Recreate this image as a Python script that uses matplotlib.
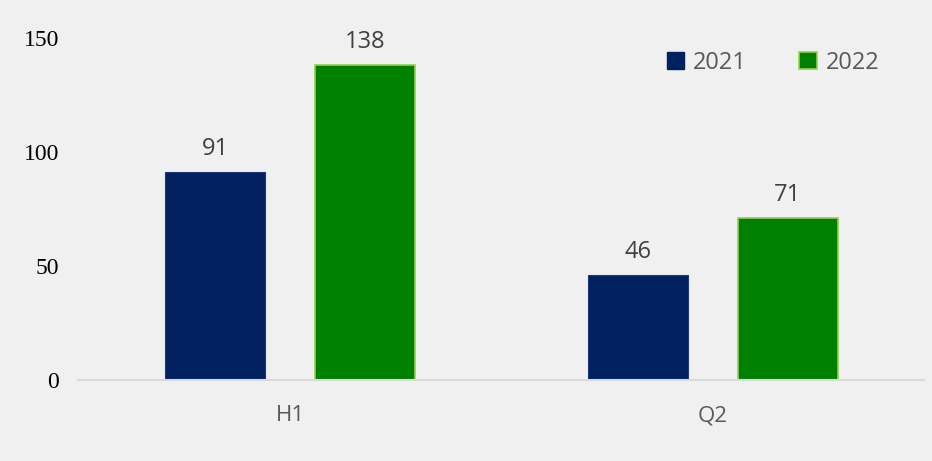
import matplotlib
matplotlib.use("Agg")
import matplotlib.pyplot as plt
from matplotlib.patches import Patch
import numpy as np

categories = ["H1", "Q2"]
series_names = ["2021", "2022"]
values_2021 = [91, 46]
values_2022 = [138, 71]
y_ticks = [0, 50, 100, 150]

bg = "#f0f0f0"
navy = "#002060"
green = "#008000"
green_edge = "#92d050"
sans = ["Open Sans", "DejaVu Sans"]

fig = plt.figure(figsize=(9.32, 4.61), dpi=100, facecolor=bg)
ax = fig.add_axes([0.0842, 0.1757, 0.9077, 0.742], facecolor=bg)

x = np.arange(len(categories))
width = 0.236
offset = 0.177

b1 = ax.bar(x - offset, values_2021, width, color=navy, edgecolor="#1f3a78", linewidth=0.8, label=series_names[0])
b2 = ax.bar(x + offset, values_2022, width, color=green, edgecolor=green_edge, linewidth=1.2, label=series_names[1])

for bars, vals in ((b1, values_2021), (b2, values_2022)):
    for rect, v in zip(bars, vals):
        ax.annotate(f"{v}", (rect.get_x() + rect.get_width() / 2, v),
                    xytext=(0, 8), textcoords="offset points",
                    ha="center", va="bottom",
                    family=sans, fontsize=17, color="#404040")

ax.set_xlim(-0.5, 1.5)
ax.set_ylim(0, 150)
ax.set_yticks(y_ticks)
ax.set_yticklabels([str(t) for t in y_ticks])
ax.set_xticks(x)
ax.set_xticklabels(categories)
ax.tick_params(axis="y", length=0, pad=14, labelsize=17, labelcolor="#000000")
ax.tick_params(axis="x", length=0, pad=18, labelsize=16, labelcolor="#595959")
for lbl in ax.get_yticklabels():
    lbl.set_family("Liberation Serif")
for lbl in ax.get_xticklabels():
    lbl.set_family(sans)

for s in ("top", "right", "left"):
    ax.spines[s].set_visible(False)
ax.spines["bottom"].set_color("#d9d9d9")
ax.spines["bottom"].set_linewidth(1.5)

handles = [Patch(facecolor=navy, edgecolor=navy), Patch(facecolor=green, edgecolor=green_edge, linewidth=1.2)]
leg = ax.legend(handles, series_names, loc="upper right", bbox_to_anchor=(0.9715, 1.024),
                ncol=2, frameon=False, handlelength=0.75, handleheight=0.75,
                handletextpad=0.35, columnspacing=2.25,
                prop=dict(family=sans, size=17))
for t in leg.get_texts():
    t.set_color("#595959")

fig.savefig("out.png", dpi=100, facecolor=bg)
